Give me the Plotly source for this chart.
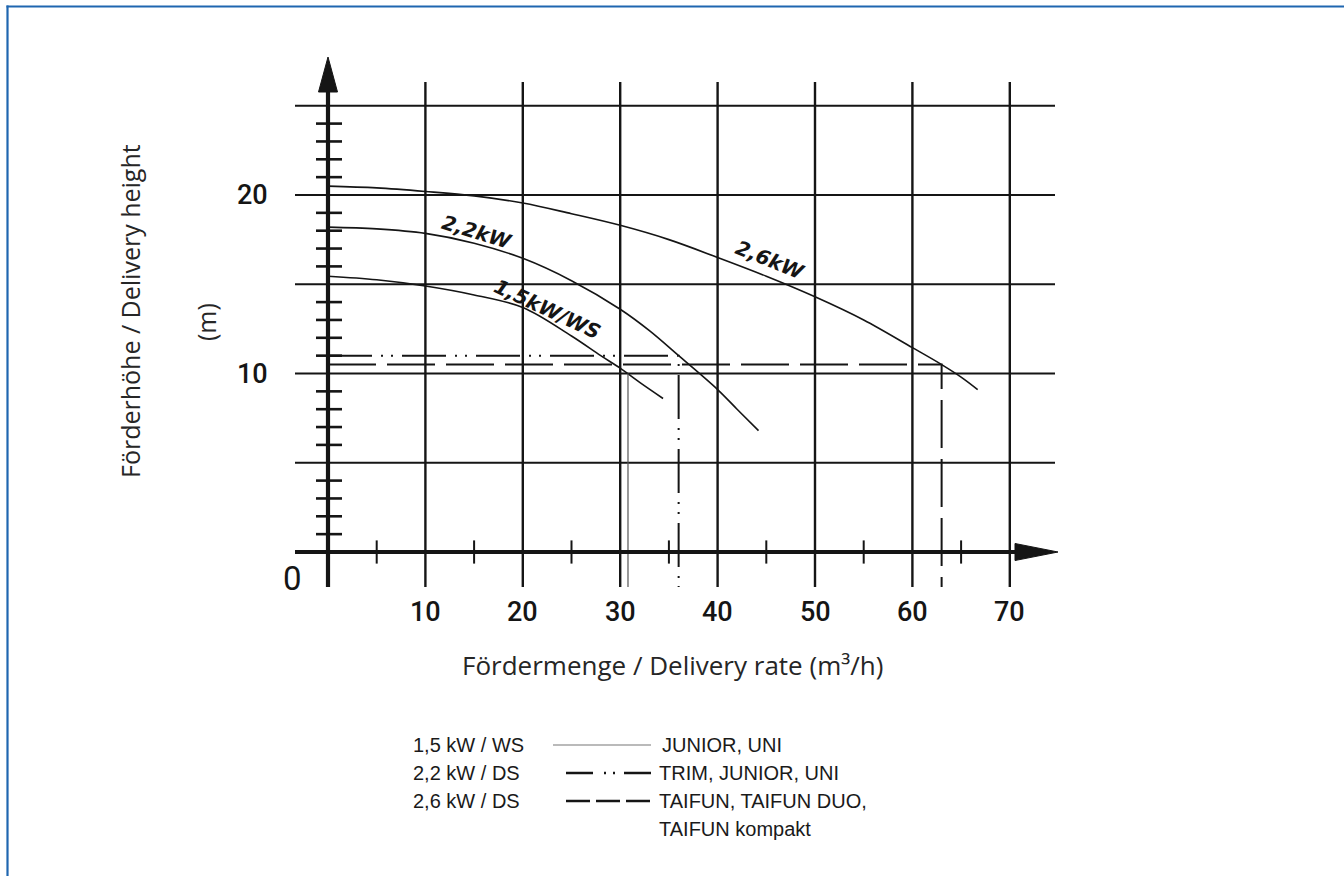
import plotly.graph_objects as go

# ---------------- data ----------------
flow_15 = [0, 5, 10, 15, 20, 25, 28, 30, 32, 34.4]
head_15 = [15.45, 15.25, 14.9, 14.4, 13.7, 12.1, 11.0, 10.3, 9.5, 8.6]

flow_22 = [0, 5, 10, 15, 20, 25, 30, 33, 36, 40, 42, 44.2]
head_22 = [18.2, 18.1, 17.85, 17.3, 16.45, 15.2, 13.6, 12.4, 11.0, 9.1, 8.0, 6.8]

flow_26 = [0, 5, 10, 15, 20, 25, 30, 35, 40, 45, 50, 55, 60, 63, 65, 66.7]
head_26 = [20.5, 20.4, 20.2, 19.95, 19.55, 18.95, 18.3, 17.5, 16.5, 15.45, 14.3, 13.0, 11.45, 10.5, 9.8, 9.1]

# duty points (flow, head)
duty_15 = [30.8, 10.0]
duty_22 = [36.0, 11.0]
duty_26 = [63.0, 10.5]

x_grid = [10, 20, 30, 40, 50, 60, 70]
x_tick_text = ["10", "20", "30", "40", "50", "60", "70"]
x_minor = [5, 15, 25, 35, 45, 55, 65]
y_grid = [5, 10, 15, 20, 25]
y_tick_vals = [10, 20]
y_tick_text = ["10", "20"]
y_minor = [1, 2, 3, 4, 6, 7, 8, 9, 11, 12, 13, 14, 16, 17, 18, 19, 21, 22, 23, 24]

curve_labels = ["1,5kW/WS", "2,2kW", "2,6kW"]
legend_motor = ["1,5 kW / WS", "2,2 kW / DS", "2,6 kW / DS"]
legend_models = ["JUNIOR, UNI", "TRIM, JUNIOR, UNI", "TAIFUN, TAIFUN DUO,", "TAIFUN kompakt"]

x_title = "Fördermenge / Delivery rate (m³/h)"
y_title = "Förderhöhe / Delivery height"
y_unit = "(m)"

# ---------------- canvas geometry ----------------
W, H = 1344, 876
X0_PX, PX_PER_X = 328.0, 9.74
Y0_PX, PX_PER_Y = 552.0, 17.85


def px2x(px):
    return (px - X0_PX) / PX_PER_X


def px2y(py):
    return (Y0_PX - py) / PX_PER_Y


def pxx(px):  # paper x
    return px / W


def pxy(py):  # paper y
    return 1 - py / H


X_LEFT, X_RIGHT = px2x(295), px2x(1055)
Y_BOTTOM, Y_TOP = px2y(587), px2y(82)

INK = "#151515"
fig = go.Figure()


def seg_trace(xs, ys, width, color=INK, dash="solid"):
    fig.add_trace(go.Scatter(x=xs, y=ys, mode="lines", hoverinfo="skip",
                             line=dict(color=color, width=width, dash=dash),
                             showlegend=False))


# grid lines
hx, hy = [], []
for v in y_grid:
    hx += [X_LEFT, X_RIGHT, None]
    hy += [v, v, None]
seg_trace(hx, hy, 2.0)
vx, vy = [], []
for v in x_grid:
    vx += [v, v, None]
    vy += [Y_BOTTOM, Y_TOP, None]
seg_trace(vx, vy, 2.4)

# minor ticks
tx, ty = [], []
for v in x_minor:
    tx += [v, v, None]
    ty += [-0.65, 0.65, None]
seg_trace(tx, ty, 2.0)
tx, ty = [], []
for v in y_minor:
    tx += [px2x(316), px2x(342), None]
    ty += [v, v, None]
seg_trace(tx, ty, 2.6)

# pump curves
for fx, hv in [(flow_15, head_15), (flow_22, head_22), (flow_26, head_26)]:
    fig.add_trace(go.Scatter(x=fx, y=hv, mode="lines", line_shape="spline",
                             line=dict(color=INK, width=1.6), hoverinfo="skip",
                             showlegend=False))

# duty lines
seg_trace([duty_15[0], duty_15[0]], [duty_15[1], Y_BOTTOM], 1.2, color="#555555")
DASHDOT = "44px,9px,2px,8px,2px,9px"
DASHED = "48px,11px"
seg_trace([0, duty_22[0], duty_22[0]], [duty_22[1], duty_22[1], Y_BOTTOM], 2.0, dash=DASHDOT)
seg_trace([0, duty_26[0], duty_26[0]], [duty_26[1], duty_26[1], Y_BOTTOM], 2.0, dash=DASHED)

# axes with arrows
XA_BASE, XA_TIP = px2x(1015), px2x(1058)
YA_BASE, YA_TIP = px2y(92), px2y(57)
seg_trace([X_LEFT, XA_BASE], [0, 0], 4.2)
seg_trace([0, 0], [Y_BOTTOM, YA_BASE], 4.2)
hw_x = 8.5 / PX_PER_Y
fig.add_trace(go.Scatter(x=[XA_BASE, XA_TIP, XA_BASE, XA_BASE], y=[hw_x, 0, -hw_x, hw_x],
                         mode="lines", fill="toself", fillcolor=INK,
                         line=dict(color=INK, width=1), hoverinfo="skip", showlegend=False))
hw_y = 9.5 / PX_PER_X
fig.add_trace(go.Scatter(x=[-hw_y, 0, hw_y, -hw_y], y=[YA_BASE, YA_TIP, YA_BASE, YA_BASE],
                         mode="lines", fill="toself", fillcolor=INK,
                         line=dict(color=INK, width=1), hoverinfo="skip", showlegend=False))

annotations = []
TICK_FONT = dict(family="Roboto, Liberation Sans, sans-serif", size=27, color=INK, weight=500)
for v, t in zip(x_grid, x_tick_text):
    annotations.append(dict(x=v, y=px2y(612), xref="x", yref="y", text=t, showarrow=False,
                            font=TICK_FONT, xanchor="center", yanchor="middle"))
for v, t in zip(y_tick_vals, y_tick_text):
    annotations.append(dict(x=px2x(252), y=v, xref="x", yref="y", text=t, showarrow=False,
                            font=TICK_FONT, xanchor="center", yanchor="middle"))
annotations.append(dict(x=px2x(292), y=px2y(578), xref="x", yref="y", text="0",
                        showarrow=False, xanchor="center", yanchor="middle",
                        font=dict(family="Roboto, Liberation Sans, sans-serif", size=33,
                                  color=INK, weight=400)))

# curve labels
LABEL_FONT = dict(family="DejaVu Sans", size=20, color=INK, weight="bold", style="italic")
for t, (cx, cy), ang in zip(curve_labels, [(22.5, 13.6), (15.3, 17.95), (45.4, 16.35)],
                            [25, 17, 22]):
    annotations.append(dict(x=cx, y=cy, xref="x", yref="y", text=t, showarrow=False,
                            textangle=ang, font=LABEL_FONT, xanchor="center", yanchor="middle"))

# axis titles
TITLE_FONT = dict(family="Open Sans, Noto Sans, sans-serif", size=25, color="#262626")
annotations.append(dict(x=pxx(672), y=pxy(665), xref="paper", yref="paper", text=x_title,
                        showarrow=False, font=dict(TITLE_FONT, size=26),
                        xanchor="center", yanchor="middle"))
annotations.append(dict(x=pxx(130), y=pxy(311), xref="paper", yref="paper", text=y_title,
                        showarrow=False, font=TITLE_FONT, textangle=-90,
                        xanchor="center", yanchor="middle"))
annotations.append(dict(x=pxx(206), y=pxy(322), xref="paper", yref="paper", text=y_unit,
                        showarrow=False, font=TITLE_FONT, textangle=-90,
                        xanchor="center", yanchor="middle"))

# legend block
LEG_FONT = dict(family="Liberation Sans, Arial, sans-serif", size=20, color="#1a1a1a")
rows_y = [745, 773, 801, 829]
for t, ry in zip(legend_motor, rows_y):
    annotations.append(dict(x=pxx(411), y=pxy(ry), xref="paper", yref="paper", text=t,
                            showarrow=False, font=LEG_FONT, xanchor="left", yanchor="middle"))
for t, ry, lx in zip(legend_models, rows_y, [660, 657, 657, 657]):
    annotations.append(dict(x=pxx(lx), y=pxy(ry), xref="paper", yref="paper", text=t,
                            showarrow=False, font=LEG_FONT, xanchor="left", yanchor="middle"))

shapes = [
    dict(type="line", xref="paper", yref="paper", x0=pxx(553), x1=pxx(651),
         y0=pxy(rows_y[0]), y1=pxy(rows_y[0]), line=dict(color="#777777", width=1.2)),
    dict(type="line", xref="paper", yref="paper", x0=pxx(566), x1=pxx(652),
         y0=pxy(rows_y[1]), y1=pxy(rows_y[1]),
         line=dict(color=INK, width=2.5, dash="27px,11px,2px,7px,2px,9px")),
    dict(type="line", xref="paper", yref="paper", x0=pxx(566), x1=pxx(654),
         y0=pxy(rows_y[2]), y1=pxy(rows_y[2]),
         line=dict(color=INK, width=2.5, dash="24px,6px")),
    # blue page frame
    dict(type="line", xref="paper", yref="paper", x0=pxx(6.5), x1=1.0,
         y0=pxy(6.5), y1=pxy(6.5), line=dict(color="#1f66b0", width=2.2)),
    dict(type="line", xref="paper", yref="paper", x0=pxx(7.5), x1=pxx(7.5),
         y0=pxy(5.5), y1=0.0, line=dict(color="#1f66b0", width=2.2)),
]

fig.update_layout(
    width=W, height=H,
    margin=dict(l=0, r=0, t=0, b=0),
    paper_bgcolor="white", plot_bgcolor="white",
    xaxis=dict(range=[px2x(0), px2x(W)], visible=False, fixedrange=True),
    yaxis=dict(range=[px2y(H), px2y(0)], visible=False, fixedrange=True),
    annotations=annotations, shapes=shapes,
    showlegend=False,
)

fig.write_html(
    "out.html",
    config={"displayModeBar": False},
    post_script="document.body.style.margin='0';document.body.style.overflow='hidden';",
)
